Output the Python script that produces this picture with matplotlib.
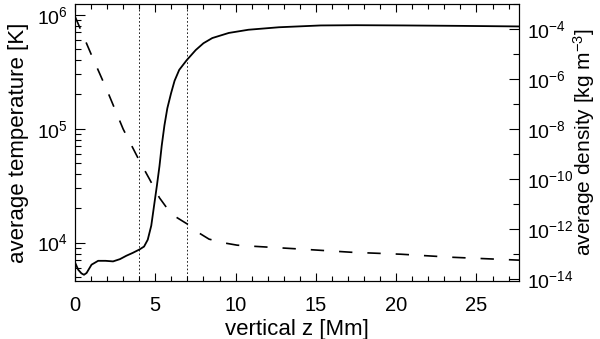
import matplotlib
matplotlib.use("Agg")
import matplotlib.pyplot as plt
from matplotlib.ticker import LogLocator, MultipleLocator, NullFormatter, FixedLocator

plt.rcParams['font.family'] = ['Liberation Sans', 'DejaVu Sans']
plt.rcParams['mathtext.fontset'] = 'custom'
plt.rcParams['mathtext.rm'] = 'Liberation Sans'
plt.rcParams['mathtext.it'] = 'Liberation Sans'
plt.rcParams['mathtext.bf'] = 'Liberation Sans'
plt.rcParams['axes.unicode_minus'] = False

# temperature profile (solid)
z_temp = [0, 0.2, 0.4, 0.56, 0.72, 1.03, 1.44, 1.9, 2.37, 2.8, 3.2, 3.6, 4.02, 4.3,
          4.53, 4.75, 4.95, 5.1, 5.26, 5.4, 5.57, 5.75, 5.98, 6.2, 6.49, 6.95, 7.52,
          8.0, 8.55, 9.58, 10.8, 12.7, 15.3, 17.5, 20.5, 24.0, 27.65]
temp = [6700, 5780, 5370, 5220, 5410, 6400, 6920, 6920, 6840, 7160, 7670, 8130, 8710,
        9230, 10600, 14100, 22400, 31600, 46800, 70800, 107000, 151000, 204000,
        263000, 328000, 398000, 490000, 562000, 624000, 692000, 738000, 776000,
        805000, 809000, 805000, 798000, 789000]

# density profile (dashed)
z_dens = [0, 1.0, 2.0, 3.0, 4.0, 4.64, 5.26, 6.0, 7.0, 7.6, 8.35, 9.4, 10.1, 11.0,
          14.1, 17.2, 20.3, 23.4, 27.65]
dens = [3.2e-4, 1.0e-5, 3.5e-7, 1.0e-8, 5.6e-10, 1.0e-10, 1.8e-11, 4.0e-12, 1.6e-12,
        7.9e-13, 4.0e-13, 2.75e-13, 2.3e-13, 2.1e-13, 1.6e-13, 1.2e-13, 1.0e-13,
        7.6e-14, 5.8e-14]

markers_z = [4, 7]

x_ticks = [0, 5, 10, 15, 20, 25]
dens_major = [1e-14, 1e-12, 1e-10, 1e-8, 1e-6, 1e-4]
dens_minor = [1e-13, 1e-11, 1e-9, 1e-7, 1e-5, 1e-3]

fig = plt.figure(figsize=(6.0, 3.39), dpi=100)
ax = fig.add_axes([75/600, 1-281/339, 444/600, 277/339])
ax2 = ax.twinx()

ax.plot(z_temp, temp, color='black', lw=1.3)
ax2.plot(z_dens, dens, color='black', lw=1.2, dashes=(8, 9))
for zm in markers_z:
    ax.axvline(zm, color='black', lw=0.6, linestyle=(0, (2, 2.5)))

ax.set_xlim(0, 27.65)
ax.set_yscale('log')
ax.set_ylim(10**3.663, 10**6.094)
ax2.set_yscale('log')
ax2.set_ylim(10**-14.07, 10**-3.0)

ax.xaxis.set_major_locator(FixedLocator(x_ticks))
ax.xaxis.set_minor_locator(MultipleLocator(1))
ax.yaxis.set_major_locator(LogLocator(base=10, numticks=10))
ax.yaxis.set_minor_locator(LogLocator(base=10, subs=range(2, 10), numticks=20))
ax.yaxis.set_minor_formatter(NullFormatter())

ax2.yaxis.set_major_locator(FixedLocator(dens_major))
ax2.yaxis.set_minor_locator(FixedLocator(dens_minor))
ax2.yaxis.set_minor_formatter(NullFormatter())

ax.tick_params(axis='x', which='both', direction='in', top=True, bottom=True, labelsize=14.5, pad=11)
ax.tick_params(axis='x', which='major', length=6, width=0.8)
ax.tick_params(axis='x', which='minor', length=3.5, width=0.8)
ax.tick_params(axis='y', which='both', direction='in', left=True, right=False, labelsize=14, pad=5)
ax.tick_params(axis='y', which='major', length=7, width=0.8)
ax.tick_params(axis='y', which='minor', length=4, width=0.8)
ax2.tick_params(axis='y', which='both', direction='in', labelsize=14, pad=6)
ax2.tick_params(axis='y', which='major', length=7, width=0.8)
ax2.tick_params(axis='y', which='minor', length=4, width=0.8)

for a in (ax, ax2):
    for s in a.spines.values():
        s.set_linewidth(0.8)

ax.set_xlabel('vertical z [Mm]', fontsize=16, labelpad=3)
ax.set_ylabel('average temperature [K]', fontsize=16, labelpad=6)
ax2.set_ylabel(r'average density [kg m$^{-3}$]', fontsize=15)
ax2.yaxis.set_label_coords(1.118, 0.5)

fig.savefig('out.png', dpi=100)
